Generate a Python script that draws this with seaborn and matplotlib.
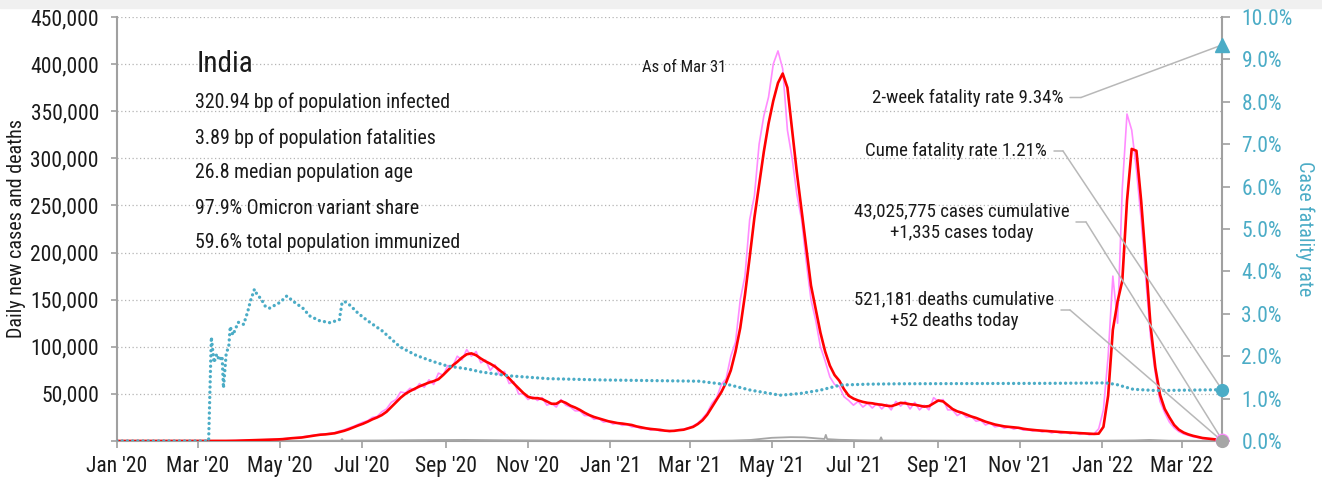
import numpy as np
import pandas as pd
import matplotlib
matplotlib.use("Agg")
import matplotlib.pyplot as plt
import matplotlib.dates as mdates
from matplotlib.ticker import FuncFormatter, FixedLocator
from matplotlib.patches import Rectangle
from matplotlib import font_manager
import seaborn as sns

# ---------------------------------------------------------------- data
country = "India"
stats_lines = [
    "320.94 bp of population infected",
    "3.89 bp of population fatalities",
    "26.8 median population age",
    "97.9% Omicron variant share",
    "59.6% total population immunized",
]
as_of = "As of Mar 31"
end_date = pd.Timestamp("2022-03-31")

fatality_2wk = 9.34
fatality_cume = 1.21
cases_total = 43025775
cases_today = 1335
deaths_total = 521181
deaths_today = 52

# new cases (thousands), sampled every 3.5 days from 2020-01-01 12:00
cases_avg_k = [
    0, 0, 0, 0, 0, 0, 0, 0, 0, 0, 0, 0, 0, 0, 0, 0, 0,
    0, 0, 0, 0, 0.05, 0.08, 0.1, 0.15, 0.25,
    0.4, 0.5, 0.7, 0.8, 0.9, 1.1, 1.3, 1.5, 1.7,
    2.0, 2.5, 3.0, 3.3, 3.7, 4.5, 5.3, 6.0, 6.7,
    7.0, 7.6, 8.2, 9.5, 10.8, 12.5, 14.5, 16.5,
    18.3, 20.5, 23, 25, 27.5, 31, 36, 41, 46, 50,
    53, 55.5, 58, 60, 62, 63.5, 65.5, 70,
    75, 80, 84, 88.5, 92, 93, 91, 87.5,
    84.5, 82, 79, 75, 71, 66.5, 61, 56, 51, 47,
    45.5, 45.5, 44.5, 42, 39.5, 39.5, 42.5, 40.5, 37.5, 35.5,
    33, 30, 27.5, 25.5, 24, 22.5, 21, 20, 19, 18.5,
    17.8, 17, 15.5, 14.5, 13.5, 12.8, 12.3, 11.8, 11.0, 10.6,
    10.8, 11.5, 12, 13.5, 15, 18, 22, 28,
    36, 44, 52, 62, 75, 95,
    120, 155, 195, 237, 272, 307, 337, 361, 380, 390,
    375, 330, 285, 245, 205, 165, 140, 115, 95, 80, 70,
    64, 55, 48, 45, 43, 41.5, 40.5, 40, 39, 38.5,
    37.5, 37, 38.5, 40.5, 40, 39, 38.5, 37.5, 36.5, 37,
    40, 43, 42, 38, 34, 31.5, 30, 28, 26, 24.5,
    22.5, 20.5, 19, 17.5, 16.5, 15.5, 15, 14.5, 14, 13,
    12.3, 11.8, 11.3, 11, 10.6, 10.2, 9.8, 9.5, 9.2, 8.9,
    8.6, 8.3, 8.0, 7.8, 7.5, 7.8,
    15, 48, 118, 148, 170, 255, 310, 308, 255, 190,
    122, 78, 49, 34, 25, 17, 12, 9, 7, 5.5,
    4.3, 3.2, 2.6, 2.1, 1.6, 1.3,
]
cases_daily_k = [
    0, 0, 0, 0, 0, 0, 0, 0, 0, 0, 0, 0, 0, 0, 0, 0, 0,
    0, 0, 0, 0.05, 0.08, 0.1, 0.15, 0.25, 0.35,
    0.5, 0.6, 0.8, 0.85, 1.0, 1.2, 1.4, 1.6, 1.9,
    2.3, 2.8, 3.2, 3.6, 4.2, 5.0, 5.8, 6.5, 7.0,
    7.3, 8.0, 8.8, 10.5, 11.8, 13.8, 15.5, 17.8,
    20, 21.5, 25, 26, 31, 34, 41, 44, 52, 51,
    56, 54, 61, 57, 65, 60, 72, 70,
    80, 79, 90, 86, 97, 90, 95, 83,
    86, 75, 81, 70, 74, 61, 63, 50, 50, 44,
    47, 43, 46, 38, 40, 36, 44, 38, 36, 32,
    32, 27, 27, 23, 24, 20, 21, 18, 19, 16.5,
    17.5, 15, 15, 13, 13.5, 11.5, 12.5, 10.5, 11, 10,
    11, 12, 12.5, 14, 16, 19, 24, 30,
    40, 46, 60, 66, 90, 105,
    150, 175, 235, 260, 315, 345, 365, 400, 414, 395,
    330, 300, 262, 235, 190, 150, 128, 100, 85, 68, 60,
    58, 47, 43, 38, 42, 36, 40, 35, 40, 34,
    39, 33, 42, 37, 42, 34, 41, 33, 38, 33,
    46, 42, 44, 33, 33, 27, 30, 25, 26, 21,
    22, 17, 19, 15, 16, 13.5, 15, 12.5, 14, 11.5,
    12, 10.5, 11.5, 9.5, 11, 8.5, 10, 8, 9.5, 7.5,
    9, 7, 8.5, 6.5, 7.5, 13,
    33, 90, 175, 125, 268, 347, 330, 288, 235, 171,
    110, 72, 42, 30, 20, 14, 10, 7.5, 6, 4.5,
    3.6, 2.8, 2.2, 1.8, 1.5, 1.3,
]

# daily deaths (thousands)
death_dates = [
    "2020-01-01", "2020-03-15", "2020-04-15", "2020-05-15", "2020-06-15",
    "2020-06-16", "2020-06-17", "2020-07-15", "2020-08-15", "2020-09-15",
    "2020-10-15", "2020-11-15", "2020-12-15", "2021-01-15", "2021-02-15",
    "2021-03-15", "2021-04-01", "2021-04-15", "2021-05-01", "2021-05-15",
    "2021-05-25", "2021-06-05", "2021-06-09", "2021-06-10", "2021-06-11",
    "2021-06-20", "2021-07-05", "2021-07-20", "2021-07-21", "2021-07-22",
    "2021-08-15", "2021-09-15", "2021-11-15", "2021-12-31", "2022-01-25",
    "2022-02-05", "2022-02-20", "2022-03-31",
]
deaths_k = [
    0, 0, 0.04, 0.12, 0.33,
    2.0, 0.35, 0.55, 0.95, 1.15,
    0.75, 0.5, 0.35, 0.17, 0.1,
    0.15, 0.4, 1.1, 3.4, 4.1,
    3.9, 2.6, 2.2, 6.5, 2.0,
    1.3, 0.8, 0.55, 3.9, 0.5,
    0.45, 0.3, 0.35, 0.3, 0.6,
    1.1, 0.3, 0.05,
]

# cumulative case fatality rate (%)
cfr_dates = [
    "2020-01-01", "2020-03-09", "2020-03-11", "2020-03-13", "2020-03-15",
    "2020-03-17", "2020-03-19", "2020-03-20", "2020-03-22", "2020-03-24",
    "2020-03-25", "2020-03-27", "2020-03-31", "2020-04-04", "2020-04-07",
    "2020-04-09", "2020-04-12", "2020-04-14", "2020-04-17", "2020-04-20",
    "2020-04-23", "2020-05-01", "2020-05-06", "2020-05-11", "2020-05-18",
    "2020-05-23", "2020-05-30", "2020-06-07", "2020-06-14", "2020-06-16",
    "2020-06-18", "2020-06-22", "2020-06-28", "2020-07-04", "2020-07-12",
    "2020-07-15", "2020-07-29", "2020-08-10", "2020-08-22", "2020-09-02",
    "2020-09-17", "2020-09-27", "2020-10-17", "2020-11-16", "2020-12-26",
    "2021-03-08", "2021-03-31", "2021-04-15", "2021-05-07", "2021-05-22",
    "2021-06-06", "2021-06-21", "2021-07-11", "2021-08-05", "2021-11-23",
    "2022-01-04", "2022-01-12", "2022-01-24", "2022-02-10", "2022-03-31",
]
cfr_pct = [
    0, 0, 2.45, 1.85, 2.05,
    1.9, 2.0, 1.25, 2.05, 2.25,
    2.7, 2.5, 2.8, 2.75, 3.05,
    3.3, 3.58, 3.45, 3.35, 3.18,
    3.13, 3.27, 3.42, 3.29, 3.13,
    2.95, 2.84, 2.79, 2.86, 3.26,
    3.29, 3.2, 3.01, 2.86, 2.68,
    2.62, 2.22, 2.02, 1.88, 1.77,
    1.70, 1.63, 1.54, 1.47, 1.44,
    1.41, 1.32, 1.20, 1.08, 1.12,
    1.20, 1.32, 1.34, 1.35, 1.36,
    1.37, 1.33, 1.22, 1.19, 1.21,
]

month_ticks = pd.date_range("2020-01-01", "2022-03-01", freq="2MS")

# ---------------------------------------------------------------- style
RED = "#ff0000"
PINK = "#ff8cff"
BLUE = "#4bacc6"
GRAY = "#a6a6a6"
SPINE = "#a0a0a0"
LEADER = "#b8b8b8"
TXT = "#1a1a1a"

sns.set_theme(style="white")
installed = {f.name for f in font_manager.fontManager.ttflist}
narrow = [n for n in ("Roboto Condensed", "Open Sans Condensed", "Liberation Sans Narrow",
                      "Arial Narrow", "DejaVu Sans") if n in installed]
plt.rcParams["font.family"] = narrow + ["DejaVu Sans"]
plt.rcParams["font.stretch"] = "condensed"

W, H = 1322, 480
fig = plt.figure(figsize=(W / 100, H / 100), dpi=100)
fig.patches.append(Rectangle((0, 1 - 8 / H), 1, 8 / H, transform=fig.transFigure,
                             color="#f0f0f0", zorder=0))
ax = fig.add_axes([117 / W, 1 - 441 / H, 1105 / W, 424 / H])
ax2 = ax.twinx()

grid_dates = pd.date_range("2020-01-01 12:00", periods=len(cases_avg_k), freq="84h")
cases = pd.DataFrame({
    "date": grid_dates,
    "avg": np.array(cases_avg_k) * 1000,
    "daily": np.array(cases_daily_k) * 1000,
})
deaths = pd.DataFrame({"date": pd.to_datetime(death_dates), "deaths": np.array(deaths_k) * 1000})
cfr = pd.DataFrame({"date": pd.to_datetime(cfr_dates), "cfr": cfr_pct})

sns.lineplot(data=deaths, x="date", y="deaths", ax=ax, color=GRAY, lw=1.3, zorder=3)
sns.lineplot(data=cases, x="date", y="daily", ax=ax, color=PINK, lw=1.2, zorder=4)
sns.lineplot(data=cases, x="date", y="avg", ax=ax, color=RED, lw=1.9, zorder=5)
sns.lineplot(data=cfr, x="date", y="cfr", ax=ax2, color=BLUE, lw=2.4,
             linestyle=(0, (0.01, 1.55)), dash_capstyle="round", zorder=3)

# ---------------------------------------------------------------- axes
x0, x1 = pd.Timestamp("2020-01-01"), end_date
ax.set_xlim(x0, x1)
ax.set_ylim(0, 450000)
ax2.set_ylim(0, 10)

ax.yaxis.set_major_locator(FixedLocator(np.arange(0, 450001, 50000)))
ax.yaxis.set_major_formatter(FuncFormatter(lambda v, p: "" if v == 0 else f"{int(v):,}"))
ax2.yaxis.set_major_locator(FixedLocator(np.arange(0, 10.01, 1)))
ax2.yaxis.set_major_formatter(FuncFormatter(lambda v, p: f"{v:.1f}%"))
ax.xaxis.set_major_locator(FixedLocator(mdates.date2num(month_ticks)))
ax.xaxis.set_major_formatter(mdates.DateFormatter("%b '%y"))

ax.yaxis.grid(True, linestyle=(0, (1, 2)), color="#b4b4b4", lw=0.9)
ax.xaxis.grid(False)
ax2.grid(False)
ax.set_axisbelow(True)

for a in (ax, ax2):
    for s in a.spines.values():
        s.set_color(SPINE)
        s.set_linewidth(1.5)
    a.spines["top"].set_visible(False)
ax.spines["right"].set_visible(False)
ax2.spines["left"].set_visible(False)
ax2.spines["bottom"].set_visible(False)

ax.tick_params(axis="y", left=True, length=4, width=1.2, color=SPINE, pad=9,
               labelsize=15.5, labelcolor=TXT)
ax.tick_params(axis="x", bottom=True, length=5, width=1.2, color=SPINE, pad=6,
               labelsize=15.5, labelcolor=TXT)
ax2.tick_params(axis="y", right=True, length=6, width=1.2, color=SPINE, pad=8,
                labelsize=15.5, labelcolor=BLUE)

ax.set_xlabel("")
ax.set_ylabel("Daily new cases and deaths", fontsize=14.5, color=TXT)
ax.yaxis.set_label_coords(-0.0824, 0.5)
ax2.set_ylabel("Case fatality rate", fontsize=14.5, color=BLUE, rotation=270, va="center")
ax2.yaxis.set_label_coords(1.075, 0.5)

# ---------------------------------------------------------------- text blocks
def fx(px):
    return (px - 117) / 1105


def fy(py):
    return (441 - py) / 424


ax.text(fx(197), fy(72.5), country, transform=ax.transAxes, fontsize=21,
        color=TXT, va="baseline", ha="left")
for k, line in enumerate(stats_lines):
    ax.text(fx(195), fy(108.5 + 35 * k), line, transform=ax.transAxes,
            fontsize=14.3, color=TXT, va="baseline", ha="left")
ax.text(fx(684), fy(71.5), as_of, transform=ax.transAxes, fontsize=12,
        color=TXT, va="baseline", ha="center")

# end-of-series markers
ax2.plot([end_date], [fatality_2wk], marker="^", ms=9.5, color=BLUE, clip_on=False, zorder=6)
ax2.plot([end_date], [fatality_cume], marker="o", ms=8.5, color=BLUE, clip_on=False, zorder=6)
ax2.plot([end_date], [cases_today], marker="o", ms=9, color=PINK, clip_on=False, zorder=6,
         transform=ax.transData)
ax2.plot([end_date], [deaths_today], marker="o", ms=8.5, color=GRAY, clip_on=False, zorder=7,
         transform=ax.transData)

# labelled leaders
callouts = [
    (f"2-week fatality rate {fatality_2wk:.2f}%", 1064, 97.5, 1070, 1081,
     fatality_2wk, ax2.get_yaxis_transform()),
    (f"Cume fatality rate {fatality_cume:.2f}%", 1047, 151, 1054, 1063,
     fatality_cume, ax2.get_yaxis_transform()),
    (f"{cases_total:,} cases cumulative\n+{cases_today:,} cases today", 1070, 222, 1076, 1086,
     cases_today, ax.get_yaxis_transform()),
    (f"{deaths_total:,} deaths cumulative\n+{deaths_today:,} deaths today", 1054, 310, 1061, 1070,
     deaths_today, ax.get_yaxis_transform()),
]
for label, tx, ty, lx0, lx1, val, trans in callouts:
    ax2.text(fx(tx), fy(ty), label, transform=ax2.transAxes, fontsize=13.6, color=TXT,
             ha="right", va="center", multialignment="center", linespacing=1.3)
    ax2.annotate("", xy=(fx(lx1), fy(ty)), xycoords="axes fraction",
                 xytext=(fx(lx0), fy(ty)), textcoords="axes fraction",
                 arrowprops=dict(arrowstyle="-", color=LEADER, lw=1.1,
                                 shrinkA=0, shrinkB=0), annotation_clip=False)
    ax2.annotate("", xy=(1.0, val), xycoords=trans,
                 xytext=(fx(lx1), fy(ty)), textcoords="axes fraction",
                 arrowprops=dict(arrowstyle="-", color=LEADER, lw=1.1,
                                 shrinkA=0, shrinkB=0), annotation_clip=False)

fig.savefig("out.png", dpi=100, facecolor="white")
